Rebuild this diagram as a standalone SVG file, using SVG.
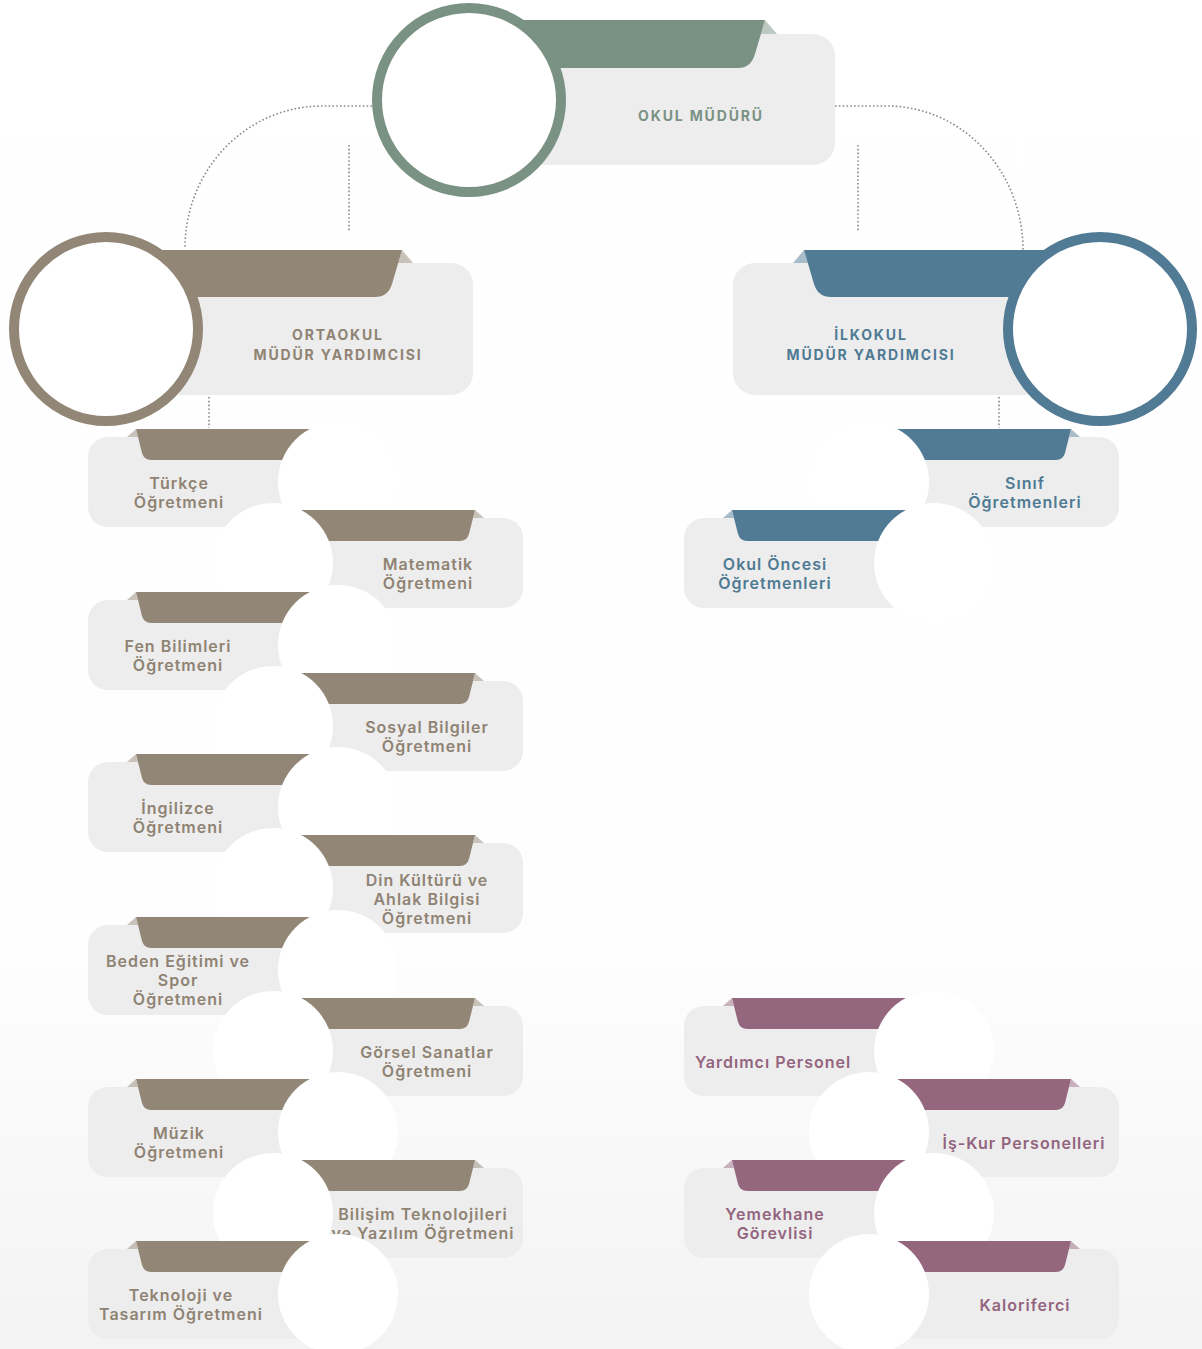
<svg xmlns="http://www.w3.org/2000/svg" xmlns:xlink="http://www.w3.org/1999/xlink" width="1202" height="1349" viewBox="0 0 1202 1349">
<defs>
<style>
.card{fill:#ededed}
.brown{color:#928676}
.blue{color:#517b94}
.purple{color:#94677f}
.green{color:#7a9284}
.t{font-family:Inter,"Open Sans","DejaVu Sans",sans-serif;font-weight:600;font-size:16px;letter-spacing:1px;text-anchor:middle}
.tb{fill:#8f8373}
.tbl{fill:#4f7a93}
.tp{fill:#93647e}
.tg{fill:#7a9284}
.big{font-size:14px;letter-spacing:1.85px;font-weight:700}
.dot{fill:none;stroke:#8a8a8a;stroke-width:1.6;stroke-dasharray:1.6 2.2}
</style>
<linearGradient id="bg" x1="0" y1="0" x2="0" y2="1">
<stop offset="0" stop-color="#ffffff"/>
<stop offset="0.7" stop-color="#fefefe"/>
<stop offset="1" stop-color="#f3f3f4"/>
</linearGradient>
<g id="cL">
<rect class="card" x="0" y="0" width="250" height="90" rx="20"/>
<path d="M39,0 L48,-8 L50,0 Z" fill="currentColor" fill-opacity="0.5"/>
<path d="M48,-8 H250 V23 H63 Q56,23 54,16 Z" fill="currentColor"/>
<circle cx="250" cy="45" r="60" fill="#ffffff"/>
</g>
<g id="vp">
<rect class="card" x="150" y="263" width="323" height="132" rx="22"/>
<path d="M402,250 L413,263 L398,263 Z" fill="currentColor" fill-opacity="0.5"/>
<path d="M150,250 H402 L392,284 Q388,297 375,297 H150 Z" fill="currentColor"/>
<circle cx="106" cy="329" r="92" fill="#ffffff" stroke="currentColor" stroke-width="10"/>
</g>
</defs>
<rect x="0" y="0" width="1202" height="1349" fill="url(#bg)"/>

<g id="connectors">
<path class="dot" d="M372,106 H322 A137,142 0 0 0 185,248"/>
<path class="dot" d="M835,106 H887 A136,144 0 0 1 1023,250"/>
<path class="dot" d="M349,145 V232"/>
<path class="dot" d="M858,145 V232"/>
<path class="dot" d="M209,397 V428"/>
<path class="dot" d="M999,397 V428"/>
</g>

<g id="okul-muduru" class="green">
<rect class="card" x="500" y="34" width="335" height="131" rx="22"/>
<path d="M765,20 L777,34 L761,34 Z" fill="currentColor" fill-opacity="0.5"/>
<path d="M480,20 H765 L755,54 Q751,68 738,68 H480 Z" fill="currentColor"/>
<circle cx="469" cy="100" r="92" fill="#ffffff" stroke="currentColor" stroke-width="10"/>
<text class="t big tg" x="701" y="121">OKUL MÜDÜRÜ</text>
</g>

<g id="ortaokul-mudur-yardimcisi" class="brown">
<use xlink:href="#vp" href="#vp"/>
<text class="t big tb" x="338" y="340">ORTAOKUL</text>
<text class="t big tb" x="338" y="360">MÜDÜR YARDIMCISI</text>
</g>

<g id="ilkokul-mudur-yardimcisi" class="blue">
<use xlink:href="#vp" href="#vp" transform="translate(1206,0) scale(-1,1)"/>
<text class="t big tbl" x="871" y="340">İLKOKUL</text>
<text class="t big tbl" x="871" y="360">MÜDÜR YARDIMCISI</text>
</g>

<g id="turkce" class="brown">
<use href="#cL" transform="translate(88,437)"/>
<text class="t tb" x="179" y="489">Türkçe</text>
<text class="t tb" x="179" y="508">Öğretmeni</text>
</g>
<g id="matematik" class="brown">
<use href="#cL" transform="translate(523,518) scale(-1,1)"/>
<text class="t tb" x="428" y="570">Matematik</text>
<text class="t tb" x="428" y="589">Öğretmeni</text>
</g>
<g id="fen" class="brown">
<use href="#cL" transform="translate(88,600)"/>
<text class="t tb" x="178" y="652">Fen Bilimleri</text>
<text class="t tb" x="178" y="671">Öğretmeni</text>
</g>
<g id="sosyal" class="brown">
<use href="#cL" transform="translate(523,681) scale(-1,1)"/>
<text class="t tb" x="427" y="733">Sosyal Bilgiler</text>
<text class="t tb" x="427" y="752">Öğretmeni</text>
</g>
<g id="ingilizce" class="brown">
<use href="#cL" transform="translate(88,762)"/>
<text class="t tb" x="178" y="814">İngilizce</text>
<text class="t tb" x="178" y="833">Öğretmeni</text>
</g>
<g id="din" class="brown">
<use href="#cL" transform="translate(523,843) scale(-1,1)"/>
<text class="t tb" x="427" y="886">Din Kültürü ve</text>
<text class="t tb" x="427" y="905">Ahlak Bilgisi</text>
<text class="t tb" x="427" y="924">Öğretmeni</text>
</g>
<g id="beden" class="brown">
<use href="#cL" transform="translate(88,925)"/>
<text class="t tb" x="178" y="967">Beden Eğitimi ve</text>
<text class="t tb" x="178" y="986">Spor</text>
<text class="t tb" x="178" y="1005">Öğretmeni</text>
</g>
<g id="gorsel" class="brown">
<use href="#cL" transform="translate(523,1006) scale(-1,1)"/>
<text class="t tb" x="427" y="1058">Görsel Sanatlar</text>
<text class="t tb" x="427" y="1077">Öğretmeni</text>
</g>
<g id="muzik" class="brown">
<use href="#cL" transform="translate(88,1087)"/>
<text class="t tb" x="179" y="1139">Müzik</text>
<text class="t tb" x="179" y="1158">Öğretmeni</text>
</g>
<g id="bilisim" class="brown">
<use href="#cL" transform="translate(523,1168) scale(-1,1)"/>
<text class="t tb" x="423" y="1220">Bilişim Teknolojileri</text>
<text class="t tb" x="423" y="1239">ve Yazılım Öğretmeni</text>
</g>
<g id="teknoloji" class="brown">
<use href="#cL" transform="translate(88,1249)"/>
<text class="t tb" x="181" y="1301">Teknoloji ve</text>
<text class="t tb" x="181" y="1320">Tasarım Öğretmeni</text>
</g>

<g id="sinif" class="blue">
<use href="#cL" transform="translate(1119,437) scale(-1,1)"/>
<text class="t tbl" x="1025" y="489">Sınıf</text>
<text class="t tbl" x="1025" y="508">Öğretmenleri</text>
</g>
<g id="okul-oncesi" class="blue">
<use href="#cL" transform="translate(684,518)"/>
<text class="t tbl" x="775" y="570">Okul Öncesi</text>
<text class="t tbl" x="775" y="589">Öğretmenleri</text>
</g>

<g id="yardimci" class="purple">
<use href="#cL" transform="translate(684,1006)"/>
<text class="t tp" x="773" y="1068">Yardımcı Personel</text>
</g>
<g id="iskur" class="purple">
<use href="#cL" transform="translate(1119,1087) scale(-1,1)"/>
<text class="t tp" x="1024" y="1149">İş-Kur Personelleri</text>
</g>
<g id="yemekhane" class="purple">
<use href="#cL" transform="translate(684,1168)"/>
<text class="t tp" x="775" y="1220">Yemekhane</text>
<text class="t tp" x="775" y="1239">Görevlisi</text>
</g>
<g id="kaloriferci" class="purple">
<use href="#cL" transform="translate(1119,1249) scale(-1,1)"/>
<text class="t tp" x="1025" y="1311">Kaloriferci</text>
</g>
</svg>
